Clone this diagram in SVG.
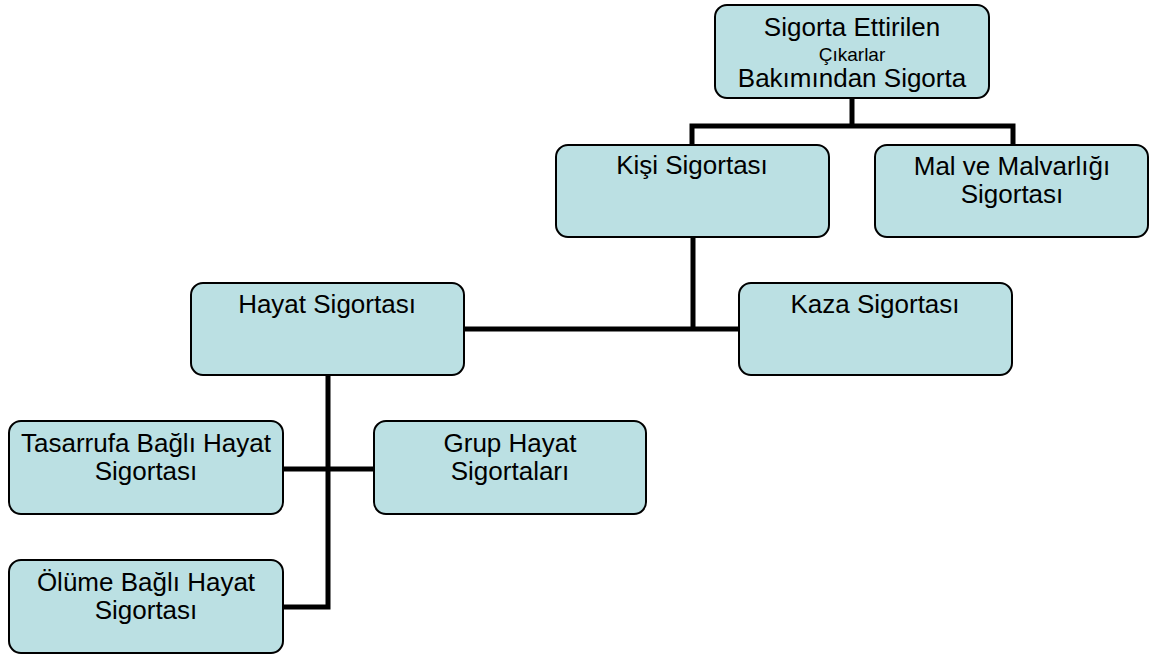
<svg xmlns="http://www.w3.org/2000/svg" width="1155" height="654" viewBox="0 0 1155 654">
<style>
.box{fill:#bbe0e3;stroke:#000;stroke-width:2}
.t{font-family:"Liberation Sans",Arial,sans-serif;font-size:26px;fill:#000;text-anchor:middle}
.s{font-size:19px}
.c{stroke:#000;stroke-width:5;fill:none}
</style>
<rect width="1155" height="654" fill="#fff"/>
<g id="connectors">
<polyline class="c" points="852,98 852,126"/>
<polyline class="c" points="692,146 692,126 1013,126 1013,146"/>
<polyline class="c" points="693,237 693,329"/>
<polyline class="c" points="464,329 739,329"/>
<polyline class="c" points="328,375 328,607 283,607"/>
<polyline class="c" points="283,469 374,469"/>
</g>
<g id="n-top">
<rect class="box" x="715" y="5" width="274" height="93" rx="12"/>
<text class="t" x="852" y="36">Sigorta Ettirilen</text>
<text class="t s" x="852" y="61">Çıkarlar</text>
<text class="t" x="852" y="87">Bakımından Sigorta</text>
</g>
<g id="n-kisi">
<rect class="box" x="556" y="145" width="273" height="92" rx="12"/>
<text class="t" x="692" y="174">Kişi Sigortası</text>
</g>
<g id="n-mal">
<rect class="box" x="875" y="145" width="273" height="92" rx="12"/>
<text class="t" x="1012" y="175">Mal ve Malvarlığı</text>
<text class="t" x="1012" y="203">Sigortası</text>
</g>
<g id="n-hayat">
<rect class="box" x="191" y="283" width="273" height="92" rx="12"/>
<text class="t" x="327" y="313">Hayat Sigortası</text>
</g>
<g id="n-kaza">
<rect class="box" x="739" y="283" width="273" height="92" rx="12"/>
<text class="t" x="875" y="313">Kaza Sigortası</text>
</g>
<g id="n-tasarrufa">
<rect class="box" x="9" y="421" width="274" height="93" rx="12"/>
<text class="t" x="146" y="452">Tasarrufa Bağlı Hayat</text>
<text class="t" x="146" y="480">Sigortası</text>
</g>
<g id="n-grup">
<rect class="box" x="374" y="421" width="272" height="93" rx="12"/>
<text class="t" x="510" y="452">Grup Hayat</text>
<text class="t" x="510" y="480">Sigortaları</text>
</g>
<g id="n-olume">
<rect class="box" x="9" y="560" width="274" height="93" rx="12"/>
<text class="t" x="146" y="591">Ölüme Bağlı Hayat</text>
<text class="t" x="146" y="619">Sigortası</text>
</g>
</svg>
